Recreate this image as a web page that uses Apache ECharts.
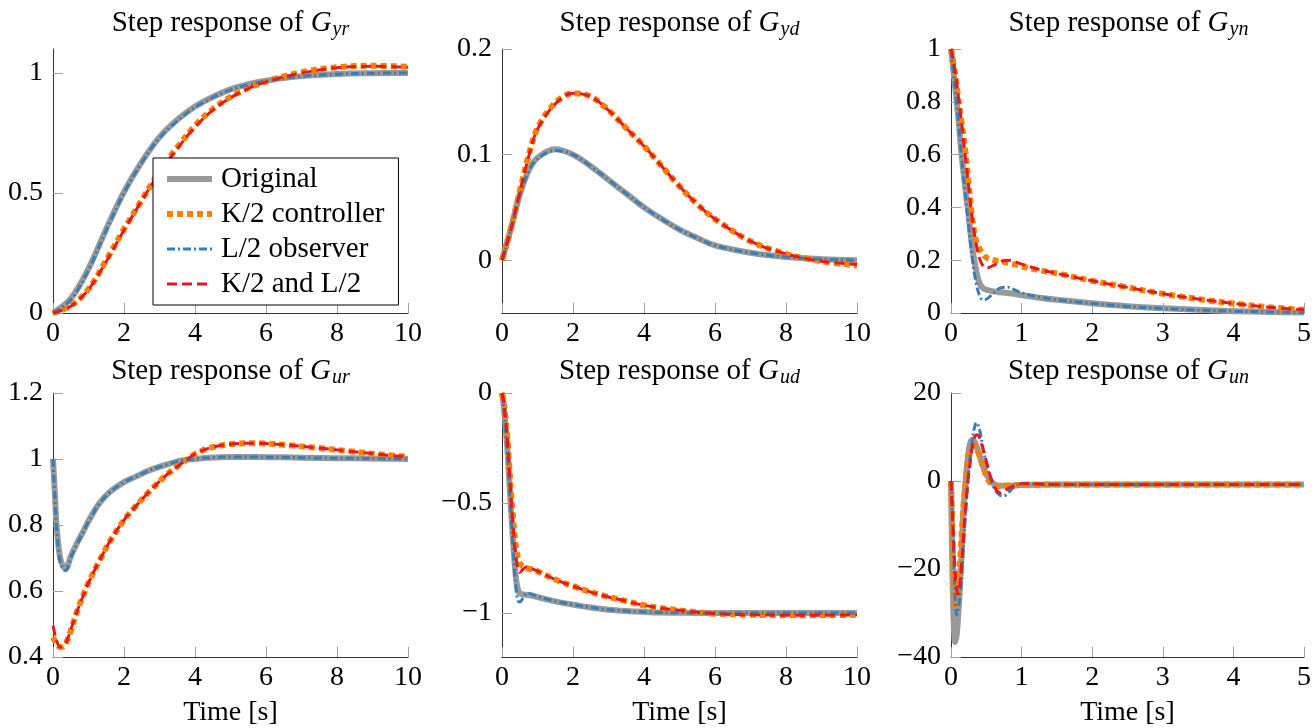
<!DOCTYPE html>
<html>
<head>
<meta charset="utf-8">
<script src="https://cdn.jsdelivr.net/npm/echarts@6/dist/echarts.min.js"></script>
<style>
  html, body { margin: 0; padding: 0; background: #fff; }
  #chart { width: 1314px; height: 728px; }
</style>
</head>
<body>
<div id="chart"></div>
<script>
// ---- series names ----
const seriesNames = ['Original', 'K/2 controller', 'L/2 observer', 'K/2 and L/2'];

// ---- G_yr ----
const yrT = [0, 0.5, 1, 1.5, 2, 2.5, 3, 3.5, 4, 4.5, 5, 5.5, 6, 7, 8, 9, 10];
const yrOriginal   = [0, 0.06, 0.185, 0.35, 0.505, 0.63, 0.733, 0.805, 0.86, 0.9, 0.932, 0.953, 0.968, 0.987, 0.996, 0.999, 1.0];
const yrController = [0, 0.03, 0.1, 0.22, 0.35, 0.47, 0.59, 0.69, 0.78, 0.85, 0.9, 0.937, 0.965, 1.003, 1.024, 1.03, 1.026];
const yrObserver   = [0, 0.055, 0.18, 0.345, 0.5, 0.627, 0.73, 0.8, 0.857, 0.898, 0.93, 0.951, 0.967, 0.986, 0.995, 0.999, 1.0];
const yrBoth       = [0, 0.028, 0.098, 0.215, 0.345, 0.468, 0.585, 0.685, 0.775, 0.845, 0.897, 0.935, 0.963, 1.0, 1.022, 1.028, 1.024];

// ---- G_yd ----
const ydT = [0, 0.25, 0.5, 0.75, 1, 1.5, 2, 2.5, 3, 3.5, 4, 4.5, 5, 5.5, 6, 7, 8, 9, 10];
const ydOriginal   = [0, 0.03, 0.062, 0.085, 0.097, 0.105, 0.1, 0.089, 0.076, 0.063, 0.05, 0.039, 0.029, 0.021, 0.014, 0.007, 0.003, 0.001, 0];
const ydController = [0, 0.03, 0.065, 0.099, 0.125, 0.149, 0.158, 0.155, 0.142, 0.125, 0.108, 0.089, 0.07, 0.053, 0.039, 0.018, 0.006, -0.001, -0.005];
const ydObserver   = [0, 0.029, 0.061, 0.084, 0.096, 0.104, 0.1, 0.089, 0.076, 0.063, 0.05, 0.039, 0.029, 0.021, 0.014, 0.007, 0.003, 0.001, 0];
const ydBoth       = [0, 0.029, 0.064, 0.098, 0.124, 0.148, 0.158, 0.155, 0.142, 0.125, 0.108, 0.089, 0.07, 0.053, 0.039, 0.018, 0.006, -0.001, -0.004];

// ---- G_yn ----
const ynT = [0, 0.05, 0.1, 0.15, 0.2, 0.25, 0.3, 0.35, 0.4, 0.45, 0.5, 0.6, 0.7, 0.8, 0.9, 1, 1.25, 1.5, 2, 2.5, 3, 3.5, 4, 4.5, 5];
const ynOriginal   = [1, 0.88, 0.75, 0.6, 0.48, 0.37, 0.25, 0.17, 0.115, 0.095, 0.088, 0.082, 0.079, 0.076, 0.072, 0.068, 0.058, 0.05, 0.037, 0.026, 0.018, 0.012, 0.007, 0.004, 0.002];
const ynController = [1, 0.92, 0.82, 0.72, 0.62, 0.49, 0.36, 0.28, 0.245, 0.225, 0.21, 0.2, 0.197, 0.19, 0.184, 0.177, 0.162, 0.15, 0.122, 0.097, 0.073, 0.053, 0.036, 0.022, 0.012];
const ynObserver   = [1, 0.87, 0.74, 0.59, 0.46, 0.33, 0.21, 0.12, 0.07, 0.05, 0.052, 0.075, 0.095, 0.098, 0.088, 0.076, 0.06, 0.05, 0.036, 0.025, 0.017, 0.011, 0.007, 0.004, 0.002];
const ynBoth       = [1, 0.93, 0.83, 0.72, 0.6, 0.48, 0.36, 0.27, 0.21, 0.18, 0.17, 0.18, 0.195, 0.2, 0.195, 0.185, 0.165, 0.15, 0.122, 0.097, 0.073, 0.053, 0.036, 0.022, 0.012];

// ---- G_ur ----
const urT = [0, 0.05, 0.1, 0.2, 0.3, 0.35, 0.4, 0.5, 0.7, 0.85, 1, 1.3, 1.6, 2, 2.3, 2.7, 3.2, 3.6, 4, 4.4, 5, 5.7, 6.5, 7.5, 8.4, 9.3, 10];
const urOriginal   = [1, 0.9, 0.8, 0.7, 0.672, 0.668, 0.672, 0.705, 0.75, 0.78, 0.812, 0.865, 0.9, 0.93, 0.945, 0.965, 0.983, 0.995, 1.0, 1.004, 1.006, 1.006, 1.005, 1.003, 1.002, 1.001, 1.0];
const urController = [0.46, 0.45, 0.44, 0.43, 0.432, 0.44, 0.45, 0.48, 0.545, 0.585, 0.625, 0.69, 0.75, 0.815, 0.853, 0.9, 0.952, 0.985, 1.015, 1.033, 1.045, 1.048, 1.043, 1.033, 1.023, 1.013, 1.007];
const urObserver   = [1, 0.89, 0.79, 0.69, 0.665, 0.662, 0.667, 0.7, 0.747, 0.778, 0.81, 0.864, 0.899, 0.93, 0.945, 0.965, 0.983, 0.995, 1.0, 1.004, 1.006, 1.006, 1.005, 1.003, 1.002, 1.001, 1.0];
const urBoth       = [0.495, 0.47, 0.45, 0.43, 0.433, 0.44, 0.452, 0.482, 0.545, 0.585, 0.625, 0.69, 0.75, 0.815, 0.853, 0.9, 0.952, 0.985, 1.015, 1.033, 1.045, 1.048, 1.043, 1.033, 1.023, 1.013, 1.006];

// ---- G_ud ----
const udT = [0, 0.05, 0.1, 0.15, 0.2, 0.25, 0.3, 0.35, 0.4, 0.45, 0.5, 0.6, 0.7, 0.8, 1, 1.5, 2, 2.5, 3, 3.5, 4, 4.5, 5, 5.5, 6, 7, 8, 9, 10];
const udOriginal   = [0, -0.06, -0.15, -0.25, -0.38, -0.52, -0.64, -0.76, -0.85, -0.895, -0.91, -0.915, -0.918, -0.92, -0.928, -0.947, -0.962, -0.975, -0.985, -0.991, -0.995, -0.998, -0.999, -1.0, -1.0, -1.0, -1.0, -1.0, -1.0];
const udController = [0, -0.04, -0.12, -0.2, -0.32, -0.44, -0.55, -0.64, -0.71, -0.75, -0.775, -0.79, -0.797, -0.8, -0.81, -0.848, -0.878, -0.905, -0.927, -0.946, -0.965, -0.978, -0.988, -0.997, -1.003, -1.008, -1.01, -1.01, -1.008];
const udObserver   = [0, -0.07, -0.17, -0.27, -0.4, -0.54, -0.68, -0.8, -0.9, -0.945, -0.95, -0.93, -0.91, -0.912, -0.925, -0.946, -0.962, -0.975, -0.985, -0.991, -0.995, -0.998, -0.999, -1.0, -1.0, -1.0, -1.0, -1.0, -1.0];
const udBoth       = [0, -0.04, -0.12, -0.21, -0.33, -0.46, -0.58, -0.68, -0.75, -0.8, -0.815, -0.8, -0.79, -0.795, -0.81, -0.848, -0.878, -0.905, -0.927, -0.946, -0.965, -0.978, -0.988, -0.997, -1.003, -1.008, -1.01, -1.01, -1.008];

// ---- G_un ----
const unOriginalT  = [0, 0.02, 0.04, 0.06, 0.08, 0.1, 0.12, 0.14, 0.16, 0.18, 0.21, 0.24, 0.27, 0.3, 0.33, 0.37, 0.42, 0.5, 0.6, 0.7, 0.8, 1, 1.5, 5];
const unOriginal   = [0, -20, -33, -36.6, -35, -31, -26, -20, -13, -6, 0.5, 5.5, 8.5, 9.4, 9, 7.5, 5, 1.5, -0.6, -1.1, -1.1, -0.9, -0.8, -0.8];
const unControllerT = [0, 0.02, 0.04, 0.06, 0.08, 0.1, 0.12, 0.14, 0.16, 0.18, 0.21, 0.24, 0.27, 0.3, 0.33, 0.36, 0.4, 0.45, 0.5, 0.55, 0.6, 0.7, 0.8, 1, 1.5, 5];
const unController = [0, -12, -24, -29, -28.5, -25, -20, -15, -10, -5, 0, 4, 6.5, 7.8, 8.1, 7.6, 6, 3.5, 1.2, -0.3, -1.1, -1.2, -1.0, -0.9, -0.8, -0.8];
const unObserverT  = [0, 0.02, 0.04, 0.06, 0.08, 0.1, 0.12, 0.14, 0.16, 0.18, 0.2, 0.22, 0.24, 0.27, 0.3, 0.33, 0.36, 0.39, 0.42, 0.46, 0.5, 0.55, 0.6, 0.65, 0.7, 0.75, 0.8, 0.85, 0.9, 0.95, 1, 1.1, 1.2, 1.5, 5];
const unObserver   = [0, -8, -18, -27, -30.5, -29.5, -27, -24, -19, -14, -9, -4.5, 0, 5, 9, 12, 13.3, 12.5, 10.5, 7, 4, 1, -1.2, -2.6, -3.3, -3.4, -2.8, -2, -1.3, -0.8, -0.5, -0.5, -0.7, -0.8, -0.8];
const unBothT      = [0, 0.02, 0.04, 0.06, 0.08, 0.1, 0.12, 0.14, 0.16, 0.18, 0.2, 0.22, 0.24, 0.27, 0.3, 0.33, 0.37, 0.4, 0.44, 0.5, 0.55, 0.6, 0.65, 0.7, 0.75, 0.8, 0.9, 1, 1.1, 1.5, 5];
const unBoth       = [0, -7, -15, -21, -24.5, -25.7, -24.5, -21, -17, -12, -7.5, -3.5, 0, 4, 7.5, 9.8, 10.5, 10, 8, 4.5, 1.5, -0.8, -2.2, -2.7, -2.4, -1.8, -1, -0.6, -0.6, -0.8, -0.8];

// ---- axes ----
const panelTitles = ['yr', 'yd', 'yn', 'ur', 'ud', 'un'];
const xMax   = [10, 10, 5, 10, 10, 5];
const xTicks = [
  [0, 2, 4, 6, 8, 10], [0, 2, 4, 6, 8, 10], [0, 1, 2, 3, 4, 5],
  [0, 2, 4, 6, 8, 10], [0, 2, 4, 6, 8, 10], [0, 1, 2, 3, 4, 5]
];
const yMin = [0, -0.05, 0, 0.4, -1.2, -40];
const yMax = [1.1, 0.2, 1, 1.2, 0, 20];
const yTicks = [
  [0, 0.5, 1], [0, 0.1, 0.2], [0, 0.2, 0.4, 0.6, 0.8, 1],
  [0.4, 0.6, 0.8, 1, 1.2], [-1, -0.5, 0], [-40, -20, 0, 20]
];
const xAxisName = 'Time [s]';

const panelData = [
  [[yrT, yrOriginal], [yrT, yrController], [yrT, yrObserver], [yrT, yrBoth]],
  [[ydT, ydOriginal], [ydT, ydController], [ydT, ydObserver], [ydT, ydBoth]],
  [[ynT, ynOriginal], [ynT, ynController], [ynT, ynObserver], [ynT, ynBoth]],
  [[urT, urOriginal], [urT, urController], [urT, urObserver], [urT, urBoth]],
  [[udT, udOriginal], [udT, udController], [udT, udObserver], [udT, udBoth]],
  [[unOriginalT, unOriginal], [unControllerT, unController], [unObserverT, unObserver], [unBothT, unBoth]]
];

// ---- styling ----
const FONT = "'Liberation Serif', 'Times New Roman', serif";
const lineStyles = [
  { color: '#999999', width: 6, type: 'solid' },
  { color: '#ff7f00', width: 6, type: [6, 4] },
  { color: '#377eb8', width: 3, type: [8, 3, 2, 3] },
  { color: '#e41a1c', width: 3, type: [10, 5] }
];

const gridBoxes = [
  { left: 53,  top: 49,  width: 355, height: 264 },
  { left: 502, top: 49,  width: 355, height: 264 },
  { left: 951, top: 49,  width: 355, height: 264 },
  { left: 53,  top: 393, width: 355, height: 265 },
  { left: 502, top: 393, width: 355, height: 265 },
  { left: 951, top: 393, width: 355, height: 265 }
];

const fmt = v => String(v).replace('-', '\u2212');

const grids = [], xAxes = [], yAxes = [], series = [], titles = [];
gridBoxes.forEach((g, i) => {
  grids.push(Object.assign({ containLabel: false }, g));
  const bottomRow = i >= 3;
  xAxes.push({
    type: 'value', gridIndex: i, min: 0, max: xMax[i],
    name: bottomRow ? xAxisName : '',
    nameLocation: 'middle', nameGap: 42,
    nameTextStyle: { fontFamily: FONT, fontSize: 28, color: '#000' },
    axisLine: { show: true, onZero: false, lineStyle: { color: '#333', width: 1 } },
    axisTick: { show: true, inside: true, length: 10, customValues: xTicks[i], lineStyle: { color: '#a0a0a0', width: 1 } },
    axisLabel: { show: true, customValues: xTicks[i], margin: 7, fontFamily: FONT, fontSize: 28, color: '#000', formatter: fmt },
    splitLine: { show: false }
  });
  yAxes.push({
    type: 'value', gridIndex: i, min: yMin[i], max: yMax[i],
    axisLine: { show: true, onZero: false, lineStyle: { color: '#333', width: 1 } },
    axisTick: { show: true, inside: true, length: 10, customValues: yTicks[i], lineStyle: { color: '#a0a0a0', width: 1 } },
    axisLabel: { show: true, customValues: yTicks[i], margin: 10, fontFamily: FONT, fontSize: 28, color: '#000', formatter: fmt },
    splitLine: { show: false }
  });
  titles.push({
    text: '{r|Step response of }{g|G}{s|' + panelTitles[i] + '}',
    left: g.left + g.width / 2,
    top: bottomRow ? 356 : 8,
    textAlign: 'center',
    padding: 0,
    textStyle: {
      fontFamily: FONT, fontSize: 29, fontWeight: 'normal', color: '#000',
      rich: {
        r: { fontFamily: FONT, fontSize: 29, lineHeight: 30, color: '#000' },
        g: { fontFamily: FONT, fontSize: 29, lineHeight: 30, fontStyle: 'italic', color: '#000' },
        s: { fontFamily: FONT, fontSize: 20, lineHeight: 20, fontStyle: 'italic', color: '#000', padding: [13, 0, 0, 1] }
      }
    }
  });
  panelData[i].forEach((pair, k) => {
    const [t, v] = pair;
    series.push({
      name: seriesNames[k],
      type: 'line',
      xAxisIndex: i, yAxisIndex: i,
      data: t.map((x, j) => [x, v[j]]),
      symbol: 'none',
      smooth: 0.35,
      clip: true,
      lineStyle: Object.assign({ cap: 'butt', join: 'round' }, lineStyles[k]),
      itemStyle: { color: lineStyles[k].color },
      emphasis: { disabled: true },
      z: 2 + k
    });
  });
});

const chart = echarts.init(document.getElementById('chart'), null, { renderer: 'canvas' });
chart.setOption({
  animation: false,
  backgroundColor: '#fff',
  title: titles,
  grid: grids,
  xAxis: xAxes,
  yAxis: yAxes,
  legend: {
    orient: 'vertical',
    left: 153, top: 158,
    padding: [6, 14, 6, 11],
    backgroundColor: '#fff',
    borderColor: '#000', borderWidth: 1, borderRadius: 0,
    itemWidth: 45, itemHeight: 14, itemGap: 5,
    selectedMode: false,
    z: 10,
    textStyle: { fontFamily: FONT, fontSize: 29, color: '#000', lineHeight: 30, padding: [0, 0, 0, 4] },
    data: seriesNames.map((n, k) => ({
      name: n,
      itemStyle: { opacity: 0 },
      lineStyle: { color: lineStyles[k].color, width: lineStyles[k].width, type: lineStyles[k].type, cap: 'butt' }
    }))
  },
  series: series
});
</script>
</body>
</html>
